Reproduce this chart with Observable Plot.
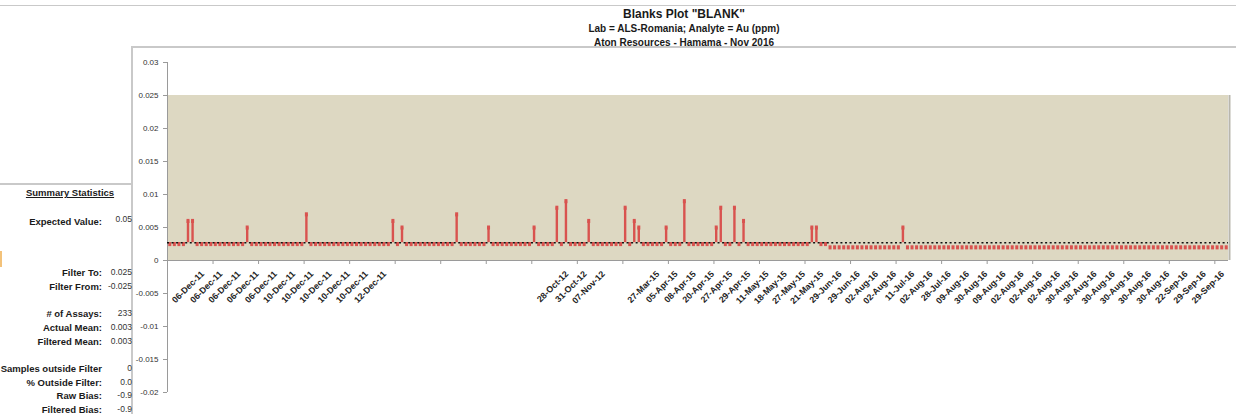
<!DOCTYPE html>
<html>
<head>
<meta charset="utf-8">
<script src="https://cdn.jsdelivr.net/npm/d3@7"></script>
<script src="https://cdn.jsdelivr.net/npm/@observablehq/plot@0.6"></script>
<style>
  html, body { margin: 0; padding: 0; background: #fff; }
  body { width: 1236px; height: 414px; overflow: hidden; position: relative;
         font-family: "Liberation Sans", Arial, sans-serif; color: #1a1a1a; }
  .line { position: absolute; background: #c9c9c9; }
  .title { position: absolute; left: 684px; transform: translateX(-50%);
           white-space: nowrap; font-weight: bold; text-align: center; }
  #stats { position: absolute; left: 0; top: 0; width: 133px; height: 414px; overflow: hidden; }
  .st { position: absolute; font-size: 9.5px; line-height: 11px; white-space: nowrap; }
  .st.lab { right: 31px; font-weight: bold; text-align: right; }
  .st.val { right: 1px; text-align: right; color: #333; font-size: 8.5px; }
  .st.head { left: 0; width: 140px; text-align: center; font-weight: bold; text-decoration: underline; font-size: 9.5px; }
  #chart { position: absolute; left: 131px; top: 47px; }
</style>
</head>
<body>
<div class="line" style="left:0;top:5px;width:1236px;height:1px"></div>
<div class="line" style="left:131px;top:46px;width:1105px;height:2px"></div>
<div class="line" style="left:131px;top:46px;width:2px;height:368px"></div>
<div class="line" style="left:0;top:183px;width:133px;height:2px"></div>
<div style="position:absolute;left:0;top:251px;width:2px;height:16px;background:#f3c27a"></div>

<div class="title" id="t1" style="top:7px;font-size:12px"></div>
<div class="title" id="t2" style="top:23px;font-size:10px"></div>
<div class="title" id="t3" style="top:37px;font-size:10px"></div>

<div id="stats"></div>
<div id="chart"></div>

<script>
// Titles
const titleLines = [
  'Blanks Plot "BLANK"',
  "Lab = ALS-Romania; Analyte = Au (ppm)",
  "Aton Resources - Hamama - Nov 2016"
];

// Au (ppm) assay results of the blank samples, in sample order
const assayValues = [
  0.0025, 0.0025, 0.0025, 0.0025, 0.006,  0.006,  0.0025, 0.0025, 0.0025, 0.0025, // 0-9
  0.0025, 0.0025, 0.0025, 0.0025, 0.0025, 0.0025, 0.0025, 0.005,  0.0025, 0.0025, // 10-19
  0.0025, 0.0025, 0.0025, 0.0025, 0.0025, 0.0025, 0.0025, 0.0025, 0.0025, 0.0025, // 20-29
  0.007,  0.0025, 0.0025, 0.0025, 0.0025, 0.0025, 0.0025, 0.0025, 0.0025, 0.0025, // 30-39
  0.0025, 0.0025, 0.0025, 0.0025, 0.0025, 0.0025, 0.0025, 0.0025, 0.0025, 0.006,  // 40-49
  0.0025, 0.005,  0.0025, 0.0025, 0.0025, 0.0025, 0.0025, 0.0025, 0.0025, 0.0025, // 50-59
  0.0025, 0.0025, 0.0025, 0.007,  0.0025, 0.0025, 0.0025, 0.0025, 0.0025, 0.0025, // 60-69
  0.005,  0.0025, 0.0025, 0.0025, 0.0025, 0.0025, 0.0025, 0.0025, 0.0025, 0.0025, // 70-79
  0.005,  0.0025, 0.0025, 0.0025, 0.0025, 0.008,  0.0025, 0.009,  0.0025, 0.0025, // 80-89
  0.0025, 0.0025, 0.006,  0.0025, 0.0025, 0.0025, 0.0025, 0.0025, 0.0025, 0.0025, // 90-99
  0.008,  0.0025, 0.006,  0.005,  0.0025, 0.0025, 0.0025, 0.0025, 0.0025, 0.005,  // 100-109
  0.0025, 0.0025, 0.0025, 0.009,  0.0025, 0.0025, 0.0025, 0.0025, 0.0025, 0.0025, // 110-119
  0.005,  0.008,  0.0025, 0.0025, 0.008,  0.0025, 0.006,  0.0025, 0.0025, 0.0025, // 120-129
  0.0025, 0.0025, 0.0025, 0.0025, 0.0025, 0.0025, 0.0025, 0.0025, 0.0025, 0.0025, // 130-139
  0.0025, 0.005,  0.005,  0.0025, 0.0025, 0.002,  0.002,  0.002,  0.002,  0.002,  // 140-149
  0.002,  0.002,  0.002,  0.002,  0.002,  0.002,  0.002,  0.002,  0.002,  0.002,  // 150-159
  0.002,  0.005,  0.002,  0.002,  0.002,  0.002,  0.002,  0.002,  0.002,  0.002,  // 160-169
  0.002,  0.002,  0.002,  0.002,  0.002,  0.002,  0.002,  0.002,  0.002,  0.002,  // 170-179
  0.002,  0.002,  0.002,  0.002,  0.002,  0.002,  0.002,  0.002,  0.002,  0.002,  // 180-189
  0.002,  0.002,  0.002,  0.002,  0.002,  0.002,  0.002,  0.002,  0.002,  0.002,  // 190-199
  0.002,  0.002,  0.002,  0.002,  0.002,  0.002,  0.002,  0.002,  0.002,  0.002,  // 200-209
  0.002,  0.002,  0.002,  0.002,  0.002,  0.002,  0.002,  0.002,  0.002,  0.002,  // 210-219
  0.002,  0.002,  0.002,  0.002,  0.002,  0.002,  0.002,  0.002,  0.002,  0.002,  // 220-229
  0.002,  0.002,  0.002                                                           // 230-232
];

// Sample dates shown along the x axis (one label every 4th sample, blanks where undated)
const dateLabels = [
  "06-Dec-11", "06-Dec-11", "06-Dec-11", "06-Dec-11", "06-Dec-11",
  "10-Dec-11", "10-Dec-11", "10-Dec-11", "10-Dec-11", "10-Dec-11",
  "12-Dec-11", "", "", "", "", "", "", "", "", "",
  "28-Oct-12", "31-Oct-12", "07-Nov-12", "", "",
  "27-Mar-15", "05-Apr-15", "08-Apr-15", "20-Apr-15", "27-Apr-15",
  "29-Apr-15", "11-May-15", "18-May-15", "27-May-15", "21-May-15",
  "29-Jun-16", "29-Jun-16", "02-Aug-16", "02-Aug-16", "11-Jul-16",
  "02-Aug-16", "28-Jul-16", "09-Aug-16", "30-Aug-16", "09-Aug-16",
  "02-Aug-16", "02-Aug-16", "02-Aug-16", "30-Aug-16", "30-Aug-16",
  "30-Aug-16", "30-Aug-16", "30-Aug-16", "30-Aug-16", "22-Sep-16",
  "29-Sep-16", "29-Sep-16"
];

// Value-axis ticks
const yTicks = [-0.02, -0.015, -0.01, -0.005, 0, 0.005, 0.01, 0.015, 0.02, 0.025, 0.03];

// Reference settings
const expectedValue = 0.05;
const filterTo = 0.025;
const filterFrom = -0.025;

// Axis layout: first dated sample, label spacing, tick spacing (in samples)
const labelFirst = 7, labelEvery = 4, tickEvery = 10;

// ---- summary statistics derived from the assays ----
const n = assayValues.length;
const actualMean = d3.mean(assayValues);
const inFilter = assayValues.filter(v => v >= filterFrom && v <= filterTo);
const filteredMean = d3.mean(inFilter);
const outside = n - inFilter.length;
const pctOutside = outside / n * 100;
const rawBias = (actualMean - expectedValue) / expectedValue;
const filteredBias = (filteredMean - expectedValue) / expectedValue;

const fx = (v, d) => v.toFixed(d);
const statRows = [
  ["Expected Value:", String(expectedValue), 221, -2],
  ["Filter To:", String(filterTo), 272, 0],
  ["Filter From:", String(filterFrom), 286, 0],
  ["# of Assays:", String(n), 313, 0],
  ["Actual Mean:", fx(actualMean, 3), 327, 0],
  ["Filtered Mean:", fx(filteredMean, 3), 341, 0],
  ["Samples outside Filter", String(outside), 368, 0],
  ["% Outside Filter:", fx(pctOutside, 1), 382, 0],
  ["Raw Bias:", fx(rawBias, 1), 395, 0],
  ["Filtered Bias:", fx(filteredBias, 1), 409, 0]
];

titleLines.forEach((t, k) => { document.getElementById("t" + (k + 1)).textContent = t; });

const stats = document.getElementById("stats");
const head = document.createElement("div");
head.className = "st head";
head.style.top = "187px";
head.textContent = "Summary Statistics";
stats.appendChild(head);
for (const [label, value, cy, off] of statRows) {
  const l = document.createElement("div");
  l.className = "st lab"; l.style.top = (cy - 5.5) + "px"; l.textContent = label;
  const v = document.createElement("div");
  v.className = "st val"; v.style.top = (cy - 5.5 + off) + "px"; v.textContent = value;
  stats.append(l, v);
}

// ---- chart ----
const samples = assayValues.map((v, i) => ({i, v}));
const labelled = dateLabels
  .map((t, k) => ({i: labelFirst + k * labelEvery, t}))
  .filter(d => d.t !== "");
const xTicks = d3.range(tickEvery, n, tickEvery);
const red = "#d9534f";
const fmtY = d => String(+d.toFixed(3));

const chart = Plot.plot({
  width: 1105,
  height: 367,
  marginLeft: 36,
  marginRight: 8,
  marginTop: 15,
  marginBottom: 22,
  style: {fontFamily: "'Liberation Sans', Arial, sans-serif", background: "transparent", color: "#333"},
  x: {domain: [0, n], axis: null},
  y: {domain: [-0.02, 0.03], axis: null},
  marks: [
    // filter band
    Plot.rect([0], {x1: 0, x2: n, y1: 0, y2: filterTo, fill: "#ddd8c2"}),
    Plot.ruleX([n], {y1: 0, y2: filterTo, stroke: "#b8b6ad", strokeWidth: 2, dx: 1}),
    // axes
    Plot.ruleX([0], {y1: -0.02, y2: 0.03, stroke: "#9a9a9a"}),
    Plot.ruleY(yTicks, {y: d => d, x1: 0, x2: 0, insetLeft: -4, stroke: "#9a9a9a"}),
    Plot.text(yTicks, {x: 0, y: d => d, text: fmtY, textAnchor: "end", dx: -9, fontSize: 8, fill: "#333"}),
    Plot.ruleY([0], {x1: 0, x2: n, stroke: "#9a9a9a"}),
    Plot.ruleX(xTicks, {x: d => d, y1: 0, y2: 0, insetBottom: -4, stroke: "#9a9a9a"}),
    Plot.text(labelled, {x: d => d.i + 0.5, y: 0, text: "t", rotate: -45, textAnchor: "end",
      dy: 12, dx: 1, fontSize: 8.8, fontWeight: "bold", fill: "#222"}),
    // assay values: stems above the mean, then a short upright marker per sample
    Plot.ruleX(samples.filter(d => d.v > actualMean), {x: d => d.i + 0.5, y1: actualMean, y2: "v",
      stroke: red, strokeWidth: 2.4}),
    Plot.ruleX(samples, {x: d => d.i + 0.5, y1: "v", y2: "v", insetTop: -1.5, insetBottom: -2.6,
      stroke: red, strokeWidth: 3}),
    // mean line
    Plot.ruleY([actualMean], {x1: 0, x2: n, stroke: "#111", strokeWidth: 1.6, strokeDasharray: "2,2.55"})
  ]
});
document.getElementById("chart").appendChild(chart);
</script>
</body>
</html>
